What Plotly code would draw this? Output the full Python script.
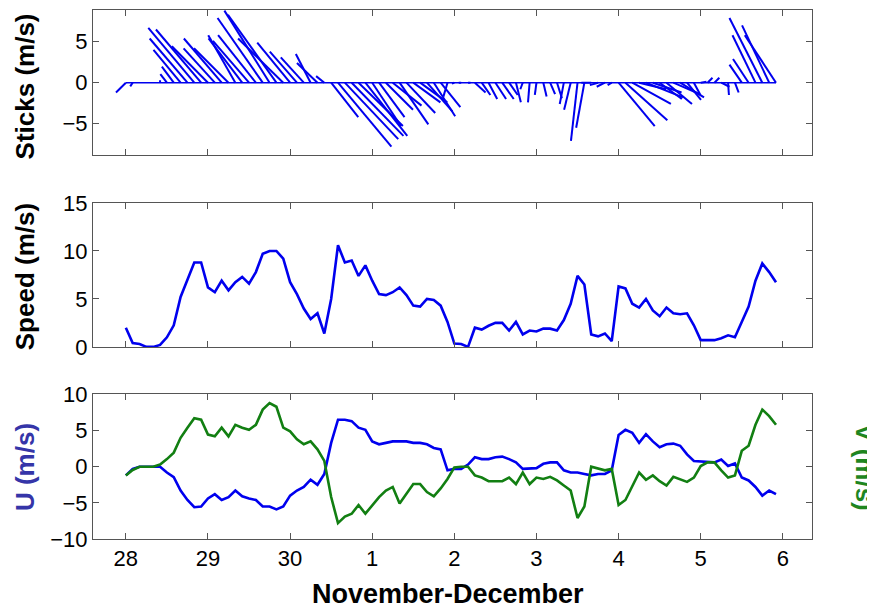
import plotly.graph_objects as go

# ---------------- data (2-hourly samples starting 28 Nov 00:00) ----------------
day_ticks = [0, 1, 2, 3, 4, 5, 6, 7, 8]
day_labels = ["28", "29", "30", "1", "2", "3", "4", "5", "6"]
sample_hours = 2

u_ms = [-1.2, -0.3, 0.0, 0.0, 0.0, 0.0, -0.8, -1.45, -3.3, -4.6, -5.6, -5.5,
        -4.4, -3.8, -4.6, -4.2, -3.3, -4.1, -4.4, -4.6, -5.5, -5.5, -5.9, -5.5,
        -4.0, -3.3, -2.8, -1.8, -2.5, -1.0, 3.3, 6.5, 6.5, 6.3, 5.4, 5.1,
        3.5, 3.1, 3.3, 3.5, 3.5, 3.5, 3.3, 3.3, 3.1, 2.6, 2.4, -0.5,
        -0.3, -0.3, 0.3, 1.3, 1.05, 1.05, 1.3, 1.4, 1.05, 0.6, -0.3, -0.2,
        -0.2, 0.4, 0.6, 0.6, -0.5, -0.8, -0.8, -1.0, -1.2, -1.0, -1.0, -0.5,
        4.4, 5.1, 4.7, 3.3, 4.5, 3.5, 2.7, 3.1, 3.2, 2.9, 1.7, 0.8,
        0.7, 0.6, 0.6, 1.0, 0.1, 0.45, -1.5, -1.9, -2.8, -4.0, -3.3, -3.8]

v_ms = [-1.2, -0.45, 0.0, 0.0, 0.0, 0.3, 1.05, 1.95, 4.0, 5.4, 6.7, 6.5,
        4.45, 4.2, 5.4, 4.2, 5.8, 5.4, 5.1, 5.8, 7.9, 8.8, 8.3, 5.4,
        4.9, 3.8, 3.1, 3.5, 2.4, 0.8, -4.2, -7.8, -6.9, -6.5, -5.3, -6.5,
        -5.3, -4.2, -3.3, -2.8, -5.1, -3.7, -2.4, -2.4, -3.5, -4.1, -3.0, -1.7,
        -0.1, 0.0, 0.0, -1.2, -1.5, -2.0, -2.0, -2.0, -1.5, -2.4, -0.8, -2.4,
        -1.5, -1.7, -1.4, -1.9, -2.6, -3.3, -7.1, -5.5, 0.0, -0.3, -0.5, -0.3,
        -5.3, -4.6, -2.6, -0.8, -1.8, -1.2, -2.0, -2.6, -1.4, -1.8, -2.1, -1.5,
        0.1, 0.6, 0.6, -0.5, -1.5, -1.2, 2.2, 2.9, 5.8, 7.9, 7.0, 5.8]

speed_ms = [2.0, 0.4, 0.3, 0.0, 0.0, 0.2, 1.0, 2.25, 5.2, 7.0, 8.8, 8.8,
            6.2, 5.7, 6.9, 5.9, 6.75, 7.3, 6.6, 7.8, 9.7, 10.0, 10.0, 9.2,
            6.75, 5.5, 4.0, 2.9, 3.5, 1.4, 5.0, 10.6, 8.8, 9.0, 7.4, 8.5,
            6.9, 5.5, 5.4, 5.7, 6.2, 5.4, 4.3, 4.2, 5.0, 4.9, 4.3, 2.6,
            0.35, 0.3, 0.0, 2.0, 1.8, 2.2, 2.5, 2.5, 1.7, 2.6, 1.3, 1.7,
            1.6, 1.9, 1.9, 1.7, 2.8, 4.5, 7.4, 6.5, 1.3, 1.1, 1.4, 0.6,
            6.3, 6.1, 4.5, 4.1, 5.0, 3.8, 3.2, 4.1, 3.5, 3.4, 3.5, 2.25,
            0.7, 0.7, 0.7, 0.9, 1.2, 1.0, 2.6, 4.2, 6.9, 8.7, 7.8, 6.75]

t_days = [i * sample_hours / 24 for i in range(len(u_ms))]

# ---------------- styles ----------------
BLUE = "#0000ee"
GREEN = "#127f12"
AXC = "#555555"
FONT = "Liberation Sans"
stick_scale = 0.1  # days per m/s so sticks look isotropic

sx, sy = [], []
for ti, ui, vi in zip(t_days, u_ms, v_ms):
    sx += [ti, ti + stick_scale * ui, None]
    sy += [0, vi, None]

fig = go.Figure()
fig.add_trace(go.Scatter(x=[t_days[0], t_days[-1]], y=[0, 0], mode="lines",
                         line=dict(color=BLUE, width=1.5), xaxis="x", yaxis="y",
                         showlegend=False, hoverinfo="skip"))
fig.add_trace(go.Scatter(x=sx, y=sy, mode="lines", line=dict(color=BLUE, width=2),
                         xaxis="x", yaxis="y", showlegend=False))
fig.add_trace(go.Scatter(x=t_days, y=speed_ms, mode="lines",
                         line=dict(color=BLUE, width=2.6), xaxis="x2", yaxis="y2",
                         showlegend=False))
fig.add_trace(go.Scatter(x=t_days, y=u_ms, mode="lines",
                         line=dict(color=BLUE, width=2.6), xaxis="x3", yaxis="y3",
                         showlegend=False))
fig.add_trace(go.Scatter(x=t_days, y=v_ms, mode="lines",
                         line=dict(color=GREEN, width=2.6), xaxis="x3", yaxis="y3",
                         showlegend=False))

# page body has an 8px margin: figure pixel = page pixel - 8
OFF = 8
W, H = 875 - OFF, 612 - OFF
ml, mr, mt, mb = 93 - OFF, 875 - 812, 9.5 - OFF, 612 - 539
ph = H - mt - mb
pw = W - ml - mr

def px_x(p):
    return (p - OFF - ml) / pw

def px_y(p):
    return (H - mb - (p - OFF)) / ph

def dom(top_px, bot_px):
    return [px_y(bot_px), px_y(top_px)]

xr = [-0.40, 8.355]
common_x = dict(range=xr, tickvals=day_ticks, ticktext=day_labels, ticks="inside",
                ticklen=6, tickcolor=AXC, showline=True, linecolor=AXC, linewidth=1,
                mirror="ticks", showgrid=False, zeroline=False, automargin=False,
                tickfont=dict(family=FONT, size=22, color="black"))
common_y = dict(ticks="inside", ticklen=6, tickcolor=AXC, showline=True, linecolor=AXC,
                linewidth=1, mirror="ticks", showgrid=False, zeroline=False,
                automargin=False, tickfont=dict(family=FONT, size=22, color="black"))

d1 = dom(9.5, 155)
d2 = dom(202.7, 346.7)
d3 = dom(394.3, 539)

fig.update_layout(
    width=W, height=H, margin=dict(l=ml, r=mr, t=mt, b=mb, pad=0), autosize=False,
    template="none",
    paper_bgcolor="white", plot_bgcolor="white", showlegend=False,
    xaxis=dict(common_x, domain=[0, 1], anchor="y", showticklabels=False),
    yaxis=dict(common_y, domain=d1, anchor="x", range=[-8.88, 8.88], tickvals=[-5, 0, 5]),
    xaxis2=dict(common_x, domain=[0, 1], anchor="y2", showticklabels=False),
    yaxis2=dict(common_y, domain=d2, anchor="x2", range=[0, 15], tickvals=[0, 5, 10, 15]),
    xaxis3=dict(common_x, domain=[0, 1], anchor="y3"),
    yaxis3=dict(common_y, domain=d3, anchor="x3", range=[-10, 10],
                tickvals=[-10, -5, 0, 5, 10]),
)

lab_font = dict(family=FONT, size=26, color="black")
fig.add_annotation(text="<b>Sticks (m/s)</b>", xref="paper", yref="paper",
                   x=px_x(25), y=px_y(86), textangle=-90, showarrow=False,
                   font=lab_font, xanchor="center", yanchor="middle")
fig.add_annotation(text="<b>Speed (m/s)</b>", xref="paper", yref="paper",
                   x=px_x(25), y=px_y(277), textangle=-90, showarrow=False,
                   font=lab_font, xanchor="center", yanchor="middle")
fig.add_annotation(text="<b>U (m/s)</b>", xref="paper", yref="paper",
                   x=px_x(25), y=px_y(467), textangle=-90, showarrow=False,
                   font=dict(family=FONT, size=26, color="#3535a8"),
                   xanchor="center", yanchor="middle")
fig.add_annotation(text="<b>V (m/s)</b>", xref="paper", yref="paper",
                   x=px_x(865), y=px_y(467), textangle=90, showarrow=False,
                   font=dict(family=FONT, size=26, color="#1f861f"),
                   xanchor="center", yanchor="middle")
fig.add_annotation(text="<b>November-December</b>", xref="paper", yref="paper",
                   x=px_x(448), y=px_y(594), showarrow=False,
                   font=dict(family=FONT, size=27, color="black"),
                   xanchor="center", yanchor="middle")

fig.write_html("out.html")
